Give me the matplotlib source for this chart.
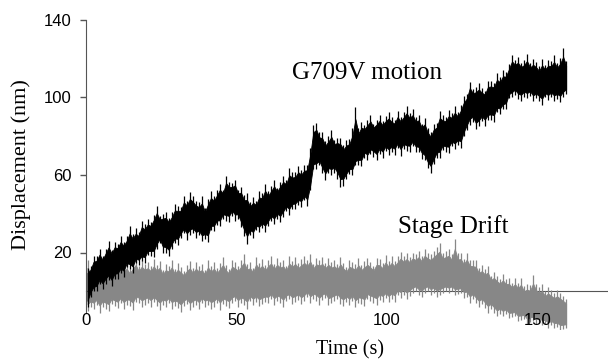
import numpy as np
import matplotlib.pyplot as plt

# one bin per second: trace midline and how far the noise reaches above / below it (nm)
time_s = np.arange(160) + 0.5

g709v_mid = [
    3, 6, 8, 10, 11, 12, 13, 14, 14.5, 15.5,
    16.5, 17.5, 18.5, 19.5, 20.5, 21.5, 22.5, 23.5, 24.5, 25.5,
    26.5, 28, 29.5, 31, 32, 31, 30, 30, 31, 33,
    35, 36.5, 38, 38.5, 39, 39, 38.5, 37, 36, 36,
    37.5, 39.5, 41, 43, 44.5, 45.5, 46.5, 47.5, 48, 47.5,
    45.5, 43, 40.5, 38.5, 38, 38.5, 39.5, 40.5, 41.5, 42.5,
    43.5, 44.5, 45.5, 46.5, 47.5, 48.5, 49.5, 50.5, 51.5, 52.5,
    53.5, 54.5, 55, 56, 62, 72, 74, 73, 71, 69.5,
    70, 71, 71, 70, 68, 67.5, 68, 69.5, 71, 73,
    75, 76.5, 78, 78.5, 79, 79.5, 79.5, 80, 80, 80.5,
    80.5, 81, 81.5, 82, 82, 82.5, 82.5, 83, 83, 82,
    81, 79.5, 77.5, 75.5, 74, 75.5, 78, 80, 81, 82,
    82.5, 83, 83.5, 84.5, 86, 88, 93, 97, 96.5, 95.5,
    95.5, 96, 96.5, 97.5, 98.5, 99.5, 100.5, 101.5, 103, 105,
    107.5, 110, 110.5, 110, 110, 109.5, 109.5, 109, 109, 108.5,
    108, 108, 108, 108.5, 109, 109, 109, 109.5, 109.5, 110,
]
g709v_up = [
    9, 7, 10, 8, 11, 6, 9, 12, 7, 10,
    8, 11, 7, 9, 13, 8, 10, 7, 12, 9,
    11, 8, 10, 13, 7, 9, 11, 8, 10, 12,
    9, 7, 11, 8, 12, 10, 8, 9, 13, 7,
    10, 12, 8, 9, 11, 7, 13, 9, 8, 10,
    7, 11, 9, 12, 8, 10, 7, 11, 9, 13,
    8, 10, 12, 7, 9, 11, 8, 13, 10, 9,
    11, 8, 10, 9, 12, 14, 13, 9, 11, 8,
    10, 12, 7, 9, 11, 8, 10, 9, 13, 22,
    9, 11, 8, 10, 12, 7, 9, 11, 8, 10,
    12, 9, 7, 11, 8, 10, 13, 9, 11, 8,
    10, 7, 12, 9, 8, 11, 9, 13, 10, 8,
    11, 9, 12, 8, 10, 13, 9, 11, 8, 10,
    12, 9, 7, 11, 10, 8, 12, 9, 11, 8,
    10, 12, 9, 11, 8, 10, 13, 9, 11, 10,
    8, 12, 9, 11, 10, 13, 9, 11, 16, 9,
]
g709v_down = [
    11, 9, 8, 10, 7, 11, 9, 8, 12, 9,
    10, 8, 11, 7, 9, 12, 8, 10, 9, 11,
    8, 10, 12, 9, 7, 11, 10, 12, 9, 8,
    11, 9, 8, 12, 10, 9, 11, 8, 10, 9,
    12, 8, 10, 9, 11, 8, 10, 12, 9, 11,
    8, 10, 12, 14, 9, 11, 8, 10, 9, 12,
    10, 8, 11, 9, 12, 10, 8, 11, 9, 10,
    9, 11, 8, 12, 10, 9, 11, 8, 10, 12,
    9, 11, 10, 12, 14, 13, 10, 9, 11, 8,
    10, 12, 9, 11, 8, 10, 12, 9, 11, 8,
    10, 9, 11, 8, 12, 9, 10, 11, 8, 10,
    9, 11, 10, 12, 13, 10, 9, 11, 8, 10,
    11, 8, 10, 9, 12, 8, 10, 11, 9, 12,
    10, 8, 11, 9, 10, 12, 8, 10, 9, 11,
    8, 10, 9, 11, 12, 9, 10, 8, 11, 9,
    10, 12, 8, 10, 9, 11, 10, 12, 9, 8,
]

drift_mid = [
    2, 2, 2, 2, 2, 2, 2, 2, 2.5, 2.5,
    2.5, 3, 3, 3, 3.5, 3.5, 3.5, 4, 4, 4,
    4, 4, 3.5, 3.5, 3.5, 3, 3, 3, 3, 2.5,
    2.5, 2.5, 2.5, 2.5, 2.5, 3, 3, 3, 3, 3,
    3, 3, 3, 3, 3.5, 3.5, 3.5, 3.5, 4, 4,
    4, 4, 4, 4, 4, 4, 4.5, 4.5, 4.5, 4.5,
    5, 5, 5, 5, 5, 5, 5, 5, 5.5, 5.5,
    5.5, 5.5, 6, 6, 6, 6, 6, 6, 5.5, 5.5,
    5, 5, 5, 5, 4.5, 4.5, 4.5, 4, 4, 4,
    4, 4.5, 4.5, 5, 5, 5, 5, 5.5, 5.5, 5.5,
    5.5, 6, 6.5, 7, 7.5, 8, 8, 8.5, 9, 9,
    9, 9, 9, 9, 9, 9, 9, 9, 9, 9,
    9, 9, 9, 8.5, 8, 7.5, 7, 6, 5, 4,
    3, 2.5, 1.5, 1, 0, -1, -2, -2.5, -3, -3.5,
    -4, -4.5, -5, -5.5, -6, -6.5, -7, -7, -7.5, -8,
    -8, -8.5, -9, -9, -9.5, -10, -10.5, -11, -11.5, -12,
]
drift_up = [
    14, 10, 12, 9, 11, 13, 8, 12, 10, 11,
    9, 13, 10, 12, 8, 11, 14, 9, 12, 10,
    11, 9, 13, 10, 12, 8, 11, 10, 13, 9,
    12, 10, 8, 11, 13, 9, 12, 10, 11, 8,
    13, 10, 12, 9, 11, 14, 10, 8, 12, 11,
    9, 12, 15, 10, 11, 8, 13, 10, 12, 9,
    11, 13, 9, 12, 10, 11, 8, 13, 10, 12,
    9, 11, 12, 10, 13, 8, 11, 10, 12, 9,
    12, 10, 11, 9, 13, 10, 8, 12, 11, 10,
    13, 9, 11, 12, 10, 8, 12, 11, 9, 13,
    10, 12, 9, 11, 13, 10, 12, 9, 11, 10,
    12, 9, 13, 11, 10, 12, 14, 16, 11, 12,
    13, 10, 18, 11, 12, 9, 13, 10, 11, 12,
    9, 11, 10, 12, 8, 11, 10, 9, 12, 10,
    11, 9, 12, 10, 13, 9, 11, 10, 16, 12,
    10, 12, 9, 11, 10, 9, 11, 10, 9, 8,
]
drift_down = [
    12, 10, 11, 9, 13, 10, 11, 12, 9, 10,
    11, 9, 12, 10, 11, 13, 9, 10, 12, 11,
    10, 12, 9, 11, 13, 10, 11, 9, 12, 10,
    11, 13, 10, 9, 12, 11, 10, 12, 9, 11,
    10, 12, 11, 9, 13, 10, 11, 12, 10, 9,
    12, 10, 11, 13, 9, 11, 10, 12, 11, 10,
    11, 9, 12, 10, 11, 13, 10, 9, 12, 11,
    10, 12, 11, 9, 12, 10, 11, 13, 10, 9,
    12, 11, 10, 9, 11, 12, 10, 11, 9, 12,
    10, 11, 12, 9, 10, 11, 12, 10, 11, 9,
    11, 10, 12, 9, 11, 10, 12, 11, 10, 9,
    11, 12, 10, 9, 11, 10, 12, 11, 10, 9,
    10, 9, 11, 10, 9, 11, 10, 12, 9, 10,
    11, 9, 10, 12, 9, 10, 11, 9, 10, 8,
    10, 9, 8, 10, 9, 8, 10, 9, 8, 9,
    8, 9, 8, 10, 8, 9, 8, 9, 8, 7,
]

x_ticks = [0, 50, 100, 150]
y_ticks = [20, 60, 100, 140]

SERIF = "Liberation Serif"
SANS = "Liberation Sans"
AXIS_GREY = "#555555"


def draw_trace(ax, mid, up, down, color):
    mid = np.asarray(mid, dtype=float)
    up = np.asarray(up, dtype=float)
    down = np.asarray(down, dtype=float)
    # dense body of the noise, then the thin excursions poking out of it
    ax.fill_between(time_s, mid - 0.72 * down, mid + 0.72 * up,
                    color=color, lw=0.6, edgecolor=color, zorder=2)
    ax.vlines(time_s, mid - down, mid + up, color=color, lw=0.9, zorder=2)


fig = plt.figure(figsize=(6.08, 3.6), dpi=100)
ax = fig.add_axes([86 / 608, 30 / 360, 522 / 608, 310 / 360])

draw_trace(ax, drift_mid, drift_up, drift_down, "#878787")
draw_trace(ax, g709v_mid, g709v_up, g709v_down, "black")

ax.set_xlim(0, 173.4)
ax.set_ylim(-20, 140)

for side in ["top", "right"]:
    ax.spines[side].set_visible(False)
ax.spines["bottom"].set_position(("data", 0))
ax.spines["bottom"].set_color(AXIS_GREY)
ax.spines["bottom"].set_zorder(1)
ax.spines["left"].set_color(AXIS_GREY)
ax.spines["left"].set_bounds(-11, 140)

ax.set_xticks(x_ticks)
ax.set_yticks(y_ticks)
ax.tick_params(axis="x", length=0, pad=16, labelsize=12)
ax.tick_params(axis="y", direction="out", length=4.3, width=1, color=AXIS_GREY,
               pad=5.8, labelsize=12)
for lab in ax.get_xticklabels() + ax.get_yticklabels():
    lab.set_family(SANS)
ax.xaxis.set_zorder(3)

ax.set_xlabel("Time (s)", family=SERIF, fontsize=14.5)
ax.xaxis.set_label_coords(0.506, -0.032)
ax.set_ylabel("Displacement (nm)", family=SERIF, fontsize=16)
ax.yaxis.set_label_coords(-0.105, 0.535)

ax.text(68.4, 109.8, "G709V motion", family=SERIF, fontsize=18, va="baseline")
ax.text(103.7, 29.9, "Stage Drift", family=SERIF, fontsize=18, va="baseline")

fig.savefig("out.png", dpi=100)
